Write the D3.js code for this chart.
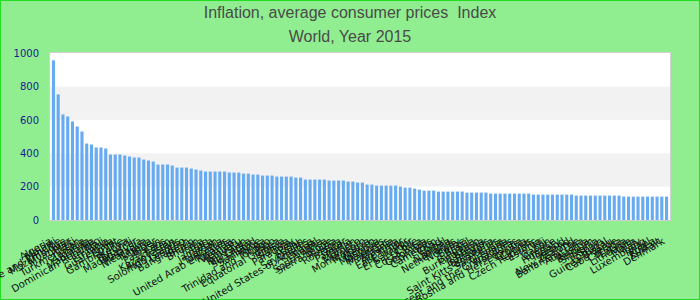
<!DOCTYPE html>
<html>
<head>
<meta charset="utf-8">
<script src="https://cdn.jsdelivr.net/npm/d3@7"></script>
<style>
  body { margin: 0; padding: 0; }
  svg { display: block; }
</style>
</head>
<body>
<div id="chart"></div>
<script>
// chart text
var titleLines = ["Inflation, average consumer prices  Index", "World, Year 2015"];

// y ticks
var yTicks = [0, 200, 400, 600, 800, 1000];

// countries, sorted by value
var countries = [
  "Algeria", "Malawi", "Sao Tome and Principe", "Mozambique", "Myanmar", "Haiti",
  "Turkmenistan", "Zambia", "Uganda", "Mauritania", "Dominican Republic", "Mali",
  "Ethiopia", "Guatemala", "Egypt", "Gambia, The", "Kenya", "Burundi",
  "Madagascar", "Malaysia", "Nicaragua", "Nigeria", "Niger", "Pakistan",
  "Laos", "Kazakhstan", "Kyrgyzstan", "Solomon Islands", "Lesotho", "Bangladesh",
  "Benin", "Bhutan", "India", "Iraq", "Jamaica", "Jordan",
  "Tanzania", "United Arab Emirates", "Rwanda", "Vietnam", "Vanuatu", "Tajikistan",
  "Sri Lanka", "Swaziland", "Suriname", "Tonga", "Trinidad and Tobago", "Togo",
  "Equatorial Guinea", "Tunisia", "Samoa", "Paraguay", "Peru", "Sudan",
  "Seychelles", "United States of America", "Senegal", "Serbia", "South Africa", "Sierra Leone",
  "Russia", "Romania", "Qatar", "Panama", "Oman", "Morocco",
  "Montenegro", "Moldova", "Mexico", "Mongolia", "Maldives", "Mauritius",
  "Albania", "Armenia", "East Timor", "Ecuador", "El Salvador", "Chile",
  "Costa Rica", "Colombia", "Comoros", "Cameroon", "Chad", "Nepal",
  "Namibia", "Netherlands", "Norway", "Belize", "Brazil", "Bulgaria",
  "Burkina Faso", "Bolivia", "Barbados", "Botswana", "Saint Kitts and Nevis", "Saint Lucia",
  "Grenada", "Saint Vincent and the Grenadines", "Honduras", "Bosnia and Herzegovina", "Croatia", "Cyprus",
  "Czech Republic", "Estonia", "Fiji", "Gabon", "Greece", "Hungary",
  "Iceland", "Ireland", "New Zealand", "Bahamas, The", "Australia", "Austria",
  "Belgium", "Slovenia", "Spain", "Portugal", "Guinea-Bissau", "Cabo Verde",
  "Canada", "Latvia", "Lithuania", "Malta", "Italy", "Luxembourg",
  "Israel", "Korea", "Kuwait", "Denmark"
];

// index values
var values = [
  956, 752, 632, 620, 590, 560, 530, 458, 452, 434,
  434, 428, 392, 392, 392, 386, 380, 374, 374, 362,
  356, 350, 332, 332, 332, 326, 314, 314, 314, 308,
  302, 296, 290, 290, 290, 290, 290, 284, 284, 284,
  278, 278, 272, 272, 266, 266, 266, 260, 260, 260,
  260, 254, 254, 242, 242, 242, 242, 242, 236, 236,
  236, 236, 230, 230, 224, 224, 212, 212, 206, 206,
  206, 206, 206, 200, 194, 194, 188, 182, 176, 176,
  176, 170, 170, 170, 170, 170, 170, 164, 164, 164,
  164, 164, 158, 158, 158, 158, 158, 158, 158, 158,
  158, 152, 152, 152, 152, 152, 152, 152, 152, 152,
  146, 146, 146, 146, 146, 146, 146, 146, 146, 146,
  140, 140, 140, 140, 140, 140, 140, 140, 140, 140
];

var data = countries.map(function (c, i) { return { country: c, value: values[i] }; });

var W = 700, H = 300;
var margin = { top: 53, right: 30, bottom: 80, left: 50 };
var width = W - margin.left - margin.right;
var height = H - margin.top - margin.bottom;

var svg = d3.select("#chart")
  .append("svg")
  .attr("width", W)
  .attr("height", H);

// background
svg.append("rect")
  .attr("x", 0.5).attr("y", 0.5)
  .attr("width", W - 1).attr("height", H - 1)
  .attr("fill", "#90ee90")
  .attr("stroke", "#22dd22")
  .attr("stroke-width", 1);

// titles
svg.selectAll(".title")
  .data(titleLines)
  .enter()
  .append("text")
  .attr("class", "title")
  .attr("x", W / 2)
  .attr("y", function (d, i) { return 18 + i * 24; })
  .attr("text-anchor", "middle")
  .attr("font-family", "Liberation Sans, Arial, sans-serif")
  .attr("font-size", "16px")
  .attr("fill", "#4a4a4a")
  .style("white-space", "pre")
  .text(function (d) { return d; });

var g = svg.append("g")
  .attr("transform", "translate(" + margin.left + "," + margin.top + ")");

var x = d3.scaleBand()
  .domain(countries)
  .range([0, width])
  .paddingInner(0.35)
  .paddingOuter(0.4);

var y = d3.scaleLinear()
  .domain([0, 1000])
  .range([height, 0]);

// plot area with alternating bands
g.append("rect")
  .attr("x", 0).attr("y", 0)
  .attr("width", width).attr("height", height)
  .attr("fill", "#ffffff");

var bands = d3.pairs(yTicks);
g.selectAll(".band")
  .data(bands)
  .enter()
  .append("rect")
  .attr("class", "band")
  .attr("x", 0)
  .attr("width", width)
  .attr("y", function (d) { return y(d[1]); })
  .attr("height", function (d) { return y(d[0]) - y(d[1]); })
  .attr("fill", function (d, i) { return i % 2 === 1 ? "#f2f2f2" : "#ffffff"; });

// bars
g.selectAll(".bar")
  .data(data)
  .enter()
  .append("rect")
  .attr("class", "bar")
  .attr("x", function (d) { return x(d.country); })
  .attr("width", x.bandwidth())
  .attr("y", function (d) { return y(d.value); })
  .attr("height", function (d) { return height - y(d.value); })
  .attr("fill", "#66aaf2");

// plot border
g.append("rect")
  .attr("x", -0.5).attr("y", -0.5)
  .attr("width", width + 1).attr("height", height + 1)
  .attr("fill", "none")
  .attr("stroke", "#d0d0d0")
  .attr("stroke-width", 1);

// y axis
var yAxis = g.append("g")
  .call(d3.axisLeft(y).tickValues(yTicks).tickFormat(d3.format("d")).tickSize(0).tickPadding(11));
yAxis.select(".domain").remove();
yAxis.selectAll("text")
  .attr("font-family", "DejaVu Sans, sans-serif")
  .attr("font-size", "10px")
  .attr("fill", "#1b1b8f");

// x axis, rotated labels
var xAxis = g.append("g")
  .attr("transform", "translate(0," + height + ")")
  .call(d3.axisBottom(x).tickSize(0));
xAxis.select(".domain").remove();
xAxis.selectAll("text")
  .attr("x", 0)
  .attr("y", 0)
  .attr("dy", "0")
  .attr("transform", "translate(-1,23) rotate(-30)")
  .attr("text-anchor", "end")
  .attr("font-family", "DejaVu Sans, sans-serif")
  .attr("font-size", "10px")
  .attr("fill", "#111");
</script>
</body>
</html>
